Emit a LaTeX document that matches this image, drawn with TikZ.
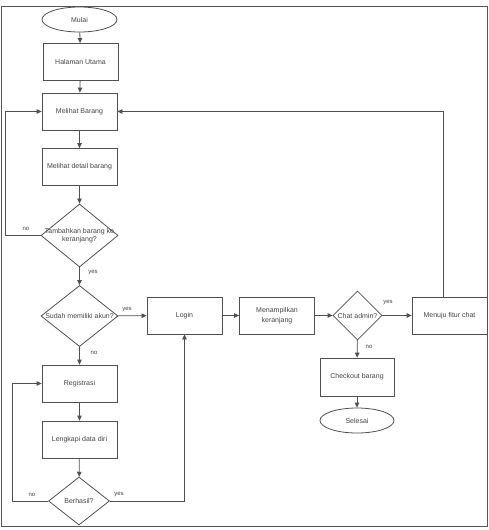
\documentclass[tikz,border=0pt]{standalone}
\usepackage{fontspec}
\setmainfont{Liberation Sans}
\usetikzlibrary{shapes.geometric,arrows.meta}
\definecolor{ln}{HTML}{505050}
\definecolor{tx}{HTML}{444444}
\definecolor{fr}{HTML}{555555}
\begin{document}
\begin{tikzpicture}[x=1pt,y=-1pt,
  every node/.style={font=\fontsize{7}{8.5}\selectfont,text=tx},
  box/.style={draw=ln,line width=0.8pt,minimum width=75pt,minimum height=37pt,inner sep=1pt,align=center},
  term/.style={ellipse,draw=ln,line width=0.8pt,minimum width=75pt,minimum height=25pt,inner sep=0pt},
  dec/.style={diamond,draw=ln,line width=0.8pt,inner sep=0pt},
  arr/.style={draw=ln,line width=0.8pt,-{Triangle[length=5pt,width=4.5pt]}},
  lab/.style={font=\fontsize{6}{7}\selectfont,text=tx}]
\useasboundingbox (0,0) rectangle (489,530);
\draw[fr,line width=1pt] (1,6) rectangle (487,526);

\node[term] (mulai) at (79.5,19.5) {Mulai};
\node[box] (hal) at (80.5,62) {Halaman Utama};
\node[box] (mb) at (79.5,111.5) {Melihat Barang};
\node[box] (md) at (79.5,167) {Melihat detail barang};
\node[dec,minimum width=77pt,minimum height=63pt,
  label={[align=center,font=\fontsize{7}{8.5}\selectfont,text=tx]center:Tambahkan barang ke\\keranjang?}] (tam) at (79.5,235.5) {};
\node[dec,minimum width=77pt,minimum height=61pt,
  label={[font=\fontsize{7}{8.5}\selectfont,text=tx]center:Sudah memiliki akun?}] (sud) at (79.5,316) {};
\node[box] (login) at (184.5,315.5) {Login};
\node[box] (reg) at (79.5,383.5) {Registrasi};
\node[box] (lkp) at (79.5,439.5) {Lengkapi data diri};
\node[dec,minimum width=61pt,minimum height=48pt,
  label={[font=\fontsize{7}{8.5}\selectfont,text=tx]center:Berhasil?}] (ber) at (79,501) {};
\node[box,font=\fontsize{7}{9.5}\selectfont] (men) at (277,315.5) {Menampilkan\\keranjang};
\node[dec,minimum width=49pt,minimum height=49pt,
  label={[font=\fontsize{7}{8.5}\selectfont,text=tx]center:Chat admin?}] (chat) at (357.5,315.5) {};
\node[box] (fitur) at (449.5,315.5) {Menuju fitur chat};
\node[box,minimum width=74pt,minimum height=38pt] (co) at (357,377) {Checkout barang};
\node[term,minimum width=74pt] (sel) at (357,420.5) {Selesai};

\coordinate (c1) at (5,235.5);
\coordinate (c2) at (5,111.5);
\coordinate (c3) at (12,501);
\coordinate (c4) at (12,383.5);
\coordinate (c5) at (184.5,501);
\coordinate (c6) at (443,111.5);

\draw[arr] (mulai) -- (hal);
\draw[arr] (hal) -- (mb);
\draw[arr] (mb) -- (md);
\draw[arr] (md) -- (tam);
\draw[arr] (tam) -- (sud);
\draw[arr] (tam.west) -- (c1) -- (c2) -- (mb.west);
\draw[arr] (sud) -- (login);
\draw[arr] (sud) -- (reg);
\draw[arr] (reg) -- (lkp);
\draw[arr] (lkp) -- (ber);
\draw[arr] (ber.west) -- (c3) -- (c4) -- (reg.west);
\draw[arr] (ber.east) -- (c5) -- (login.south);
\draw[arr] (login) -- (men);
\draw[arr] (men) -- (chat);
\draw[arr] (chat) -- (fitur);
\draw[arr] (chat) -- (co);
\draw[arr] (co) -- (sel);
\draw[arr] (fitur.north -| c6) -- (c6) -- (mb.east);

\node[lab] (l1) at (93,273) {yes};
\node[lab] (l2) at (26,229) {no};
\node[lab] (l3) at (127,310) {yes};
\node[lab] (l4) at (94,353) {no};
\node[lab] (l5) at (32,495) {no};
\node[lab] (l6) at (119,495) {yes};
\node[lab] (l7) at (388,303) {yes};
\node[lab] (l8) at (369,347) {no};
\end{tikzpicture}
\end{document}
